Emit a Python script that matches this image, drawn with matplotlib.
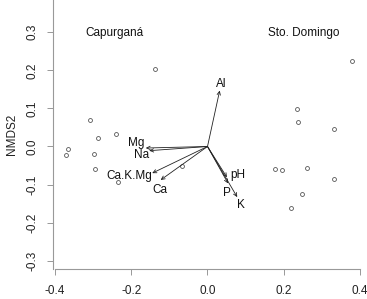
import matplotlib
matplotlib.use("Agg")
import matplotlib.pyplot as plt

# Site scores (NMDS1, NMDS2)
site_x = [-0.138, -0.308, -0.288, -0.239, -0.367, -0.371, -0.299, -0.295, -0.235, -0.066,
          0.380, 0.234, 0.237, 0.333, 0.178, 0.196, 0.261, 0.332, 0.249, 0.220]
site_y = [0.204, 0.070, 0.021, 0.032, -0.006, -0.023, -0.021, -0.059, -0.094, -0.050,
          0.224, 0.099, 0.065, 0.046, -0.060, -0.061, -0.057, -0.085, -0.125, -0.161]

# Environmental vectors
vec_names = ["Al", "Mg", "Na", "Ca.K.Mg", "Ca", "pH", "P", "K"]
vec_x = [0.032, -0.162, -0.153, -0.145, -0.123, 0.051, 0.054, 0.078]
vec_y = [0.147, -0.004, -0.011, -0.070, -0.088, -0.081, -0.097, -0.133]
lab_x = [0.037, -0.188, -0.173, -0.206, -0.126, 0.079, 0.050, 0.088]
lab_y = [0.163, 0.010, -0.022, -0.078, -0.113, -0.075, -0.122, -0.154]

group_names = ["Capurganá", "Sto. Domingo"]
group_x = [-0.245, 0.252]
group_y = [0.299, 0.299]

xticks = [-0.4, -0.2, 0.0, 0.2, 0.4]
yticks = [-0.3, -0.2, -0.1, 0.0, 0.1, 0.2, 0.3]

FS = 8.5
plt.rcParams['font.family'] = ['Liberation Sans', 'DejaVu Sans']
fig = plt.figure(figsize=(3.67, 2.99), dpi=100)
ax = fig.add_axes([0.1452, 0.0993, 0.8548, 0.9007])
ax.set_xlim(-0.4045, 0.4184)
ax.set_ylim(-0.3226, 0.3848)

ax.plot(site_x, site_y, linestyle='none', marker='o', markersize=2.8,
        markerfacecolor='none', markeredgecolor='#555555', markeredgewidth=0.6)

for x, y in zip(vec_x, vec_y):
    ax.annotate("", xy=(x, y), xytext=(0, 0),
                arrowprops=dict(arrowstyle='->,head_length=0.25,head_width=0.12',
                                color='#222222', lw=0.6, shrinkA=0, shrinkB=0))
for n, x, y in zip(vec_names, lab_x, lab_y):
    ax.text(x, y, n, ha='center', va='center', fontsize=FS, color='#111111')

for n, x, y in zip(group_names, group_x, group_y):
    ax.text(x, y, n, ha='center', va='center', fontsize=FS, color='#111111')

ax.set_xticks(xticks)
ax.set_xticklabels([f"{v:.1f}" for v in xticks])
ax.set_yticks(yticks)
ax.set_yticklabels([f"{v:.1f}" for v in yticks], rotation=90, va='center')
ax.tick_params(axis='both', labelsize=FS, length=4.3, width=0.6, colors='#888888',
               labelcolor='#222222')
ax.tick_params(axis='x', pad=7)
ax.tick_params(axis='y', pad=6.5)

for s in ['top', 'right']:
    ax.spines[s].set_visible(False)
for s in ['left', 'bottom']:
    ax.spines[s].set_color('#999999')
    ax.spines[s].set_linewidth(0.8)
ax.spines['bottom'].set_bounds(-0.4, 0.4)

ax.set_ylabel("NMDS2", fontsize=FS, color='#222222', labelpad=6)

fig.savefig("out.png", dpi=100)
